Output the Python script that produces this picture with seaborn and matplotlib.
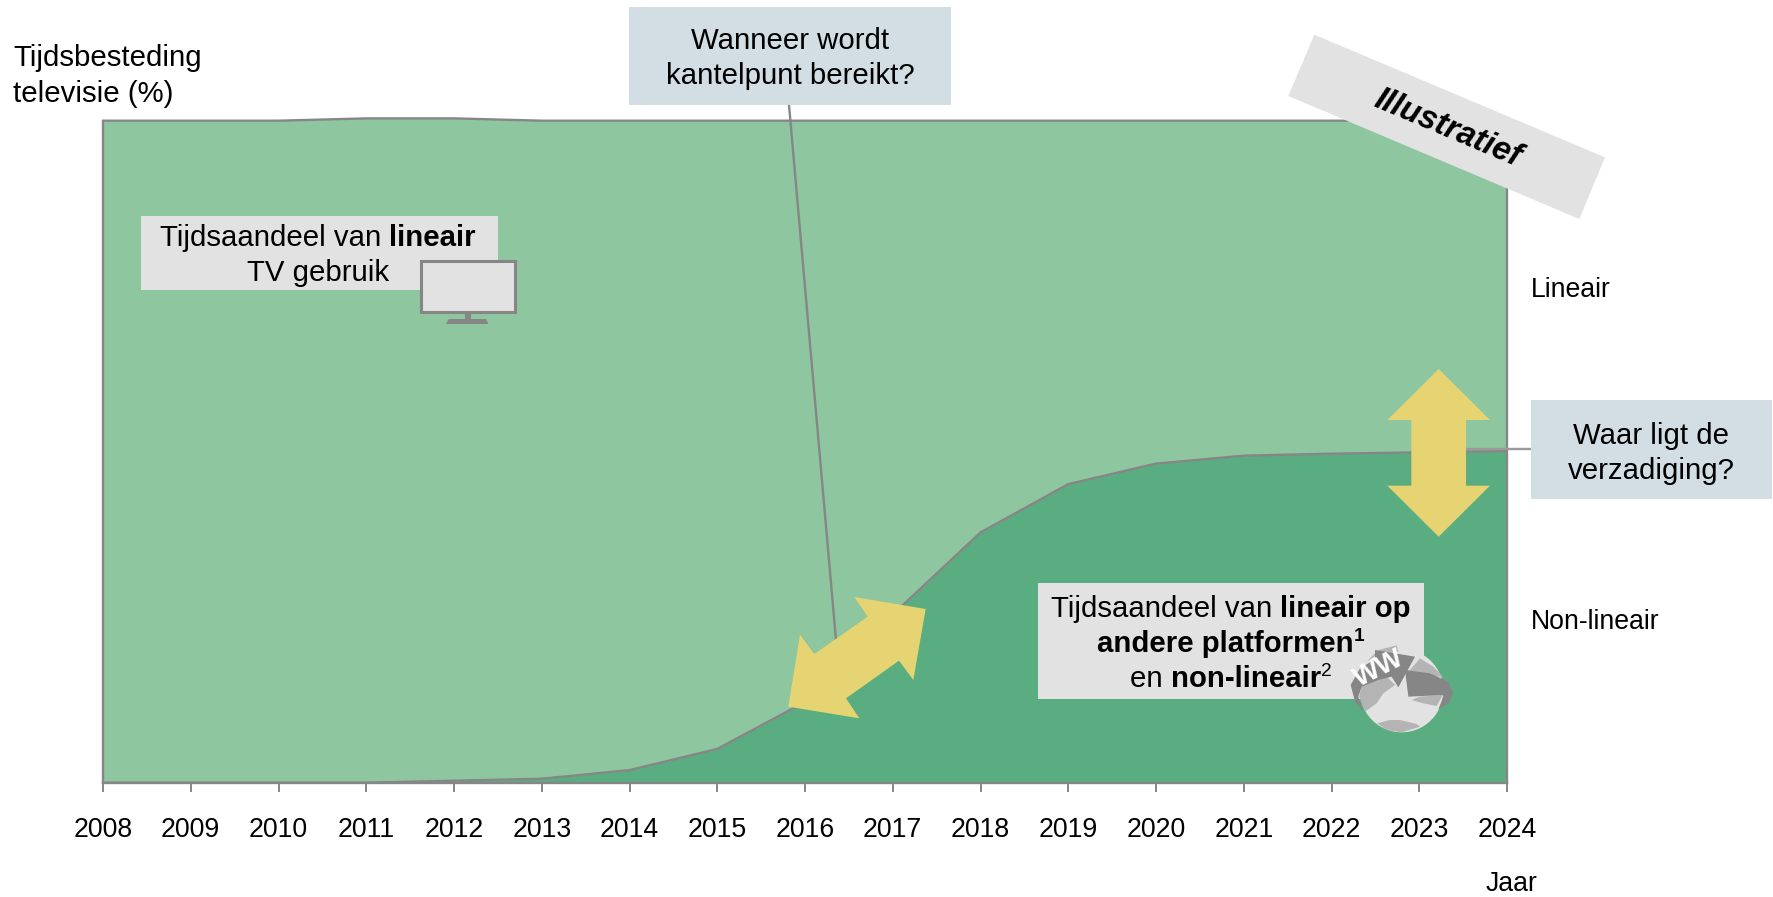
import numpy as np
import pandas as pd
import seaborn as sns
import matplotlib.pyplot as plt
from matplotlib.patches import Polygon, Rectangle, Circle

# values, share of tv time in %
years = [2008, 2009, 2010, 2011, 2012, 2013, 2014, 2015, 2016, 2017, 2018, 2019, 2020, 2021, 2022, 2023, 2024]
non_linear = [0, 0, 0, 0, 0.3, 0.6, 1.9, 5.1, 12.2, 25.4, 37.8, 45.1, 48.2, 49.4, 49.7, 49.9, 50.1]
total = [100, 100, 100, 100.35, 100.35, 100, 100, 100, 100, 100, 100, 100, 100, 100, 100, 100, 100]

LIGHT_GREEN = '#8EC6A0'
DARK_GREEN = '#5AAD81'
GREY_LINE = '#868686'
GREY_BOX = '#E2E2E2'
BLUE_BOX = '#D2DEE4'
YELLOW = '#E6D372'
LAND = '#B4B4B4'

W, H = 1773, 897

sns.set_theme(style='white')
plt.rcParams['font.family'] = ['Liberation Sans', 'DejaVu Sans']

df = pd.DataFrame({'year': years, 'non_linear': non_linear, 'total': total})

fig = plt.figure(figsize=(W / 100, H / 100), dpi=100)
ax = fig.add_axes([103 / W, 1 - 782.7 / H, (1507 - 103) / W, (782.7 - 120.7) / H])

# ---------- stacked areas ----------
ax.fill_between(df['year'], df['non_linear'], df['total'], color=LIGHT_GREEN, lw=0, clip_on=False)
ax.fill_between(df['year'], 0, df['non_linear'], color=DARK_GREEN, lw=0, clip_on=False)
sns.lineplot(data=df, x='year', y='non_linear', color=GREY_LINE, lw=1.7, ax=ax, clip_on=False)
sns.lineplot(data=df, x='year', y='total', color=GREY_LINE, lw=1.7, ax=ax, clip_on=False)

ax.set_xlim(2008, 2024)
ax.set_ylim(0, 100)
ax.set_xticks(years)
ax.set_xticklabels([str(y) for y in years])
ax.set_yticks([])
ax.set_xlabel('')
ax.set_ylabel('')
ax.patch.set_alpha(0)
ax.tick_params(axis='x', bottom=True, length=6.5, width=1.4, color=GREY_LINE, labelsize=19.2, pad=18.5, labelcolor='black')
ax.spines['top'].set_visible(False)
for side in ['left', 'right', 'bottom']:
    ax.spines[side].set_color(GREY_LINE)
    ax.spines[side].set_linewidth(1.7)

# ---------- overlay in pixels for the callouts ----------
ov = fig.add_axes([0, 0, 1, 1], zorder=5)
ov.set_xlim(0, W)
ov.set_ylim(H, 0)
ov.axis('off')
renderer = fig.canvas.get_renderer()


def box(x0, y0, x1, y1, color):
    ov.add_patch(Rectangle((x0, y0), x1 - x0, y1 - y0, facecolor=color, lw=0))


def zoom_poly(points, origin, color, z=2):
    # points taken from 3x crops of the picture
    pts = [(origin[0] + px / 3, origin[1] + py / 3) for px, py in points]
    ov.add_patch(Polygon(pts, closed=True, facecolor=color, lw=0, zorder=z))


def rich_line(cx, y, runs, size=21.2):
    # one centred line made of normal, bold and superscript pieces
    texts, widths = [], []
    for s, weight, sup in runs:
        fs = size * 0.65 if sup else size
        t = ov.text(0, y - (size * 0.33 if sup else 0), s, fontsize=fs, fontweight=weight,
                    va='center_baseline', ha='left', color='black', zorder=4)
        texts.append(t)
        widths.append(t.get_window_extent(renderer).width)
    x = cx - sum(widths) / 2
    for t, w in zip(texts, widths):
        t.set_x(x)
        x += w


# leader lines
ov.plot([789, 836], [105, 640], color=GREY_LINE, lw=1.7, zorder=1)
ov.plot([1466, 1531], [449, 449], color='#9A9A9A', lw=1.7, zorder=1)

# yellow arrows
zoom_poly([(527, 117), (313, 81), (353, 140), (193, 252), (150, 194), (115, 410),
           (328, 445), (288, 385), (447, 272), (490, 330)], (750, 570), YELLOW)
zoom_poly([(206, 27), (360, 180), (288, 180), (288, 377), (360, 377), (206, 530),
           (52, 377), (124, 377), (124, 180), (52, 180)], (1370, 360), YELLOW)

# callout boxes
box(141, 216, 498, 290, GREY_BOX)
rich_line(318, 235, [('Tijdsaandeel van ', 'normal', False), ('lineair', 'bold', False)])
rich_line(318, 270, [('TV gebruik', 'normal', False)])

box(628.5, 7, 951, 105, BLUE_BOX)
rich_line(790, 38, [('Wanneer wordt', 'normal', False)])
rich_line(790, 73, [('kantelpunt bereikt?', 'normal', False)])

box(1531, 400, 1772, 499, BLUE_BOX)
rich_line(1651, 433, [('Waar ligt de', 'normal', False)])
rich_line(1651, 468, [('verzadiging?', 'normal', False)])

box(1038, 583, 1424, 699, GREY_BOX)
rich_line(1231, 606, [('Tijdsaandeel van ', 'normal', False), ('lineair op', 'bold', False)])
rich_line(1231, 641, [('andere platformen', 'bold', False), ('1', 'bold', True)])
rich_line(1231, 676, [('en ', 'normal', False), ('non-lineair', 'bold', False), ('2', 'normal', True)])

# monitor icon
ov.add_patch(Rectangle((420.5, 261.5), 94, 51, facecolor=GREY_BOX, edgecolor=GREY_LINE, lw=2.2, zorder=3))
zoom_poly([(195, 222), (213, 222), (213, 237), (258, 237), (265, 252), (138, 252), (146, 237), (195, 237)],
          (400, 240), GREY_LINE, z=3)

# globe icon
g = (1320, 570)
ov.add_patch(Circle((g[0] + 245 / 3, g[1] + 362 / 3), 125 / 3, facecolor=GREY_BOX, lw=0, zorder=3))
zoom_poly([(140, 275), (175, 240), (230, 226), (235, 245), (170, 255)], g, LAND, z=3)
zoom_poly([(118, 380), (125, 345), (195, 315), (225, 345), (190, 370), (170, 400), (135, 425)], g, LAND, z=3)
zoom_poly([(172, 460), (210, 450), (240, 450), (290, 462), (300, 470), (245, 487), (200, 480)], g, LAND, z=3)
zoom_poly([(270, 300), (300, 265), (340, 290), (370, 322), (255, 305)], g, LAND, z=3)
zoom_poly([(275, 390), (300, 380), (368, 375), (350, 408), (310, 400)], g, LAND, z=3)
zoom_poly([(92, 345), (120, 295), (165, 268), (165, 240), (285, 260), (235, 352), (215, 320),
           (175, 330), (125, 350), (115, 380), (130, 425), (105, 395)], g, GREY_LINE, z=3)
zoom_poly([(255, 300), (330, 310), (385, 335), (400, 370), (385, 400), (355, 418), (372, 375), (265, 380)],
          g, GREY_LINE, z=3)
ov.text(g[0] + 178 / 3, g[1] + 297 / 3, 'WW', color='white', fontsize=20, fontweight='bold',
        rotation=27, ha='center', va='center', rotation_mode='anchor', zorder=4)

# illustratief stamp
zoom_poly([(133, 44), (1005, 412), (928, 597), (55, 228)], (1270, 20), GREY_BOX, z=3)
ov.text(1270 + 533 / 3, 20 + 325 / 3, 'Illustratief', fontsize=23.5, fontweight='bold', fontstyle='italic',
        rotation=-22.9, ha='center', va='center', rotation_mode='anchor', color='black', zorder=4)

# plain labels
ov.text(13, 55.5, 'Tijdsbesteding', fontsize=21.2, va='center_baseline', color='black')
ov.text(13, 90.5, 'televisie (%)', fontsize=21.2, va='center_baseline', color='black')
ov.text(1531, 287, 'Lineair', fontsize=19.2, va='center_baseline', color='black')
ov.text(1531, 619, 'Non-lineair', fontsize=19.2, va='center_baseline', color='black')
ov.text(1511, 881, 'Jaar', fontsize=19.2, ha='center', va='center_baseline', color='black')

fig.savefig('out.png', dpi=100)
